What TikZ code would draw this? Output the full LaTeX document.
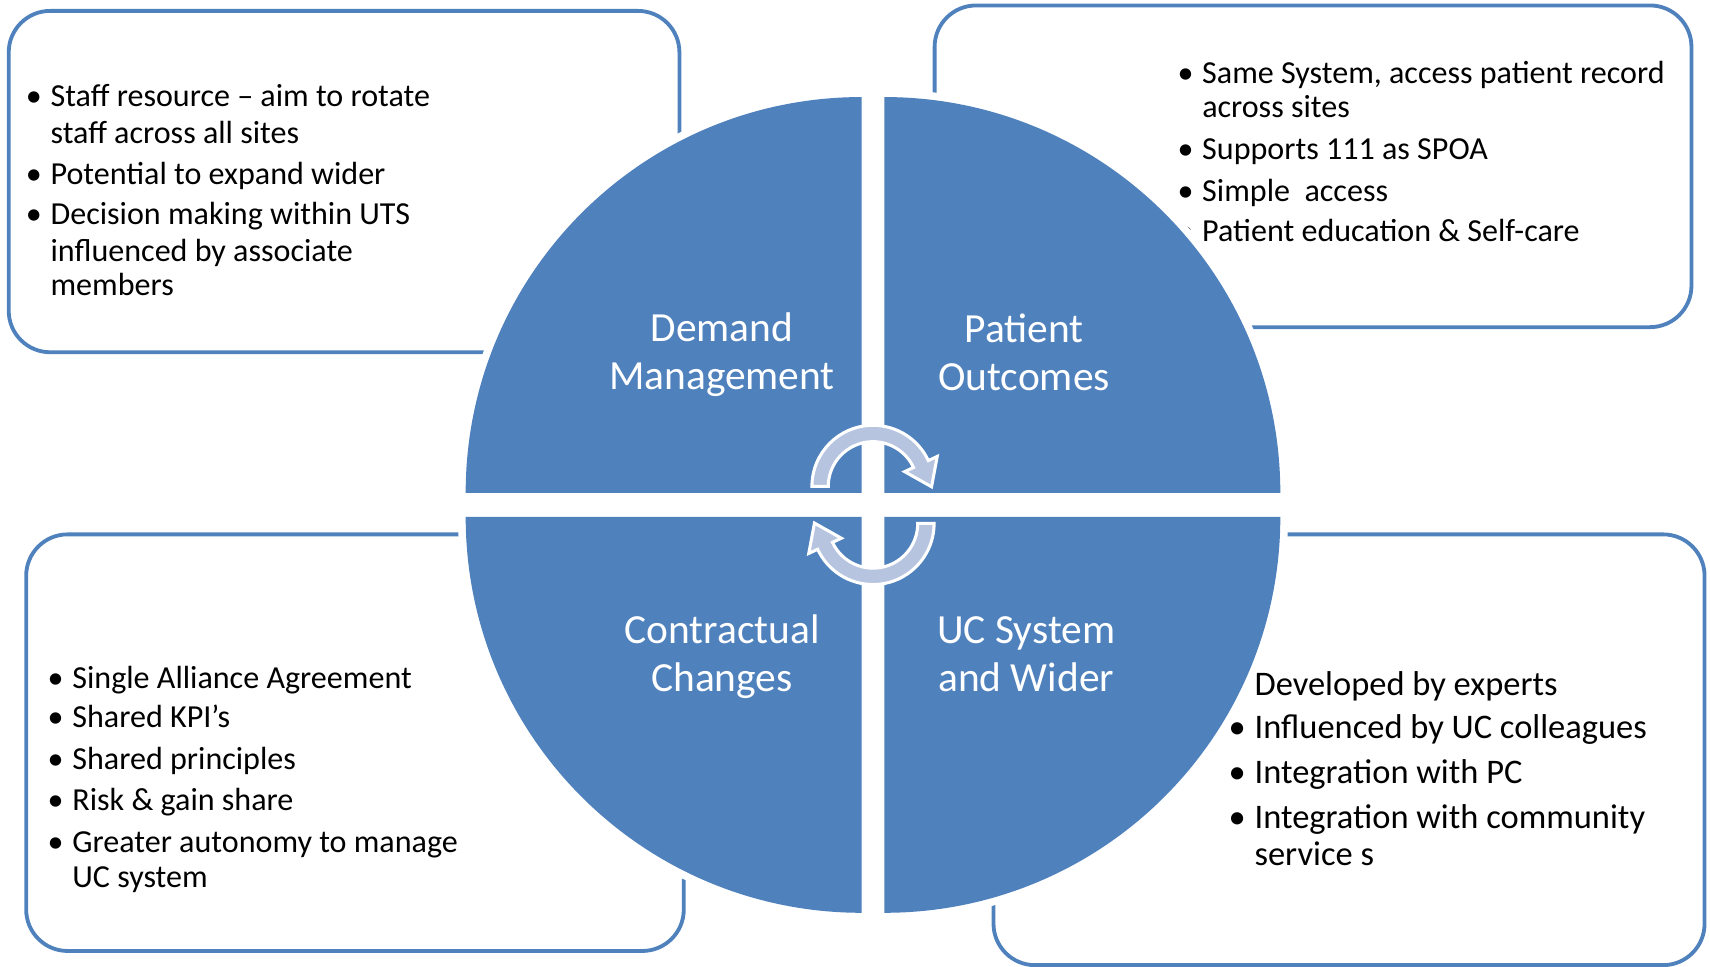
\documentclass[tikz,border=0pt]{standalone}
\usepackage{fontspec}
\setmainfont{Carlito}
\usetikzlibrary{calc}
\definecolor{quadblue}{RGB}{79,129,189}
\definecolor{arrowfill}{RGB}{182,196,224}
\tikzset{
    infobox/.style={draw=quadblue, line width=1.75pt, fill=white, rounded corners=19pt},
    itemtext/.style={anchor=base west, inner sep=0pt, font=\fontsize{14.7}{17}\selectfont},
    quadlabel/.style={text=white, align=center, inner sep=0pt, font=\fontsize{19}{22}\selectfont},
    cyclearrow/.style={fill=arrowfill, draw=white, line width=1.4pt, line join=miter},
}
\newcommand\bul{\llap{\textbullet\hspace{4pt}}}
\begin{document}
\begin{tikzpicture}[x=0.5pt, y=0.5pt]
    \useasboundingbox (0,0) rectangle (1568,-886.7);
    % the four boxes sit behind the circle
    \draw[infobox] (8,-10) rectangle (623,-323);
    \draw[infobox] (857,-5) rectangle (1551,-300);
    \draw[infobox] (24,-490) rectangle (627,-872);
    \draw[infobox] (911,-490) rectangle (1563,-885);
    \foreach \y/\t [count=\i] in {98/\bul Staff resource -- aim to rotate, 132/staff across all sites,
        169/\bul Potential to expand wider, 206/\bul Decision making within UTS,
        240/influenced by associate, 271/members}
        \node[itemtext] (dm\i) at (46,-\y) {\t};
    \foreach \y/\t [count=\i] in {77/{\bul Same System, access patient record}, 108/across sites,
        146/\bul Supports 111 as SPOA, 185/\bul Simple\ \ access, 221/\bul Patient education \& Self-care}
        \node[itemtext] (po\i) at (1102,-\y) {\t};
    \foreach \y/\t [count=\i] in {631/\bul Single Alliance Agreement, 667/\bul Shared KPI’s,
        706/\bul Shared principles, 743/\bul Risk \& gain share,
        782/\bul Greater autonomy to manage, 814/UC system}
        \node[itemtext] (cc\i) at (66,-\y) {\t};
    \foreach \y/\t [count=\i] in {638/\bul Developed by experts, 677/\bul Influenced by UC colleagues,
        718/\bul Integration with PC, 760/\bul Integration with community, 794/service s}
        \node[itemtext, font=\fontsize{15.8}{19}\selectfont] (uc\i) at (1150,-\y) {\t};
    % white halo first, then the quarter circles
    \def\r{363}
    \foreach \cx/\cy/\a in {790/452/90, 811/452/0, 790/474/180, 811/474/270}{
        \fill[white] (\cx,-\cy) -- ++(\a:\r+7) arc[start angle=\a, end angle=\a+90, radius=\r+7] -- cycle;
    }
    \foreach \cx/\cy/\a in {790/452/90, 811/452/0, 790/474/180, 811/474/270}{
        \fill[quadblue] (\cx,-\cy) -- ++(\a:\r) arc[start angle=\a, end angle=\a+90, radius=\r] -- cycle;
    }
    \node[quadlabel] (demand) at (662,-325) {Demand\\Management};
    \node[quadlabel] (outcomes) at (939,-323.5) {Patient\\Outcomes};
    \node[quadlabel] (contract) at (662,-602) {Contractual\\Changes};
    \node[quadlabel] (ucwider) at (941,-600) {UC System\\and Wider};
    % the two curved arrows, the lower one turned half round
    \foreach \cy/\a in {446/0, 480/180}{
        \coordinate (ac) at (800.5,-\cy);
        \filldraw[cyclearrow] ($(ac)+(180+\a:56)$) arc[start angle=180+\a, end angle=25+\a, radius=56]
            -- ($(ac)+(25+\a:65)$) -- ($(ac)+(25+\a:48.5)+(\a-65:23)$) -- ($(ac)+(25+\a:32)$)
            -- ($(ac)+(25+\a:41)$) arc[start angle=25+\a, end angle=180+\a, radius=41] -- cycle;
    }
\end{tikzpicture}
\end{document}
